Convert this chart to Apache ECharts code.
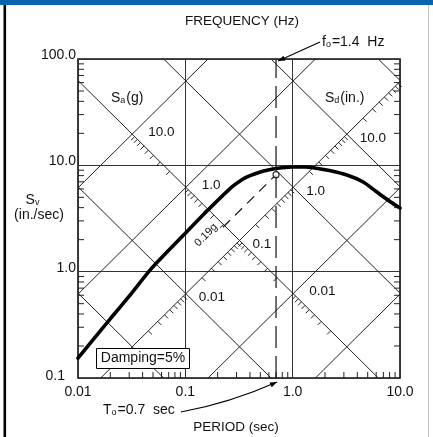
<!DOCTYPE html>
<html>
<head>
<meta charset="utf-8">
<script src="https://cdn.jsdelivr.net/npm/echarts@6/dist/echarts.min.js"></script>
<style>
  html, body { margin: 0; padding: 0; background: #fff; }
  #chart { width: 433px; height: 437px; }
</style>
</head>
<body>
<div id="chart"></div>
<script>
// Pseudo-velocity response spectrum (5% damping) on tripartite log-log paper.
const periodSec = [0.01, 0.0171, 0.0199, 0.03, 0.0469, 0.0675, 0.0953, 0.159, 0.261, 0.345, 0.401, 0.5, 0.577, 0.7, 0.85, 1.0, 1.3, 1.55, 2.2, 3.2, 4.5, 6.0, 8, 10];
const pseudoVel = [0.154, 0.298, 0.358, 0.589, 1.035, 1.53, 2.19, 3.72, 6.05, 7.43, 8.0, 8.65, 9.0, 9.35, 9.55, 9.65, 9.65, 9.5, 8.93, 8.1, 7.0, 5.67, 4.6, 3.96];

// constant-acceleration (g) and constant-displacement (in.) guide lines
const accelLines = [0.001, 0.01, 0.1, 1, 10];
const dispLines = [0.001, 0.01, 0.1, 1, 10, 100];
const tickMultipliers = [2, 3, 4, 5, 6, 7, 8, 9];
const accelTickDecades = [0.001, 0.01, 0.1, 1];   // ticked along Sd = 0.1 in.
const dispTickDecades = [0.001, 0.01, 0.1, 1, 10]; // ticked along Sa = 0.1 g
const accelLabels = [10, 1, 0.01];
const dispLabels = [10, 1, 0.1, 0.01];
const accelScaleAt = 0.1; // Sd line carrying the Sa scale
const dispScaleAt = 0.1;  // Sa line carrying the Sd scale

const xTickLabels = ['0.01', '0.1', '1.0', '10.0'];
const yTickLabels = ['0.1', '1.0', '10.0', '100.0'];

const T0 = 0.7;         // sec
const F0 = 1.4;         // Hz
const saDesign = 0.19;  // g
const saDesignFrom = 0.224; // sec, start of dashed design line
const damping = 5;      // %

const T_MIN = 0.01, T_MAX = 10, SV_MIN = 0.1, SV_MAX = 100;
const G_IN = 386.1;
const TWO_PI = 2 * Math.PI;
const svFromSa = (sa, t) => sa * G_IN * t / TWO_PI;
const svFromSd = (sd, t) => TWO_PI * sd / t;
function crossing(sa, sd) {
  const t = TWO_PI * Math.sqrt(sd / (sa * G_IN));
  return [t, svFromSd(sd, t)];
}
function saSegment(sa) {
  const t1 = Math.max(T_MIN, SV_MIN * TWO_PI / (sa * G_IN));
  const t2 = Math.min(T_MAX, SV_MAX * TWO_PI / (sa * G_IN));
  return [[t1, svFromSa(sa, t1)], [t2, svFromSa(sa, t2)]];
}
function sdSegment(sd) {
  const t1 = Math.max(T_MIN, TWO_PI * sd / SV_MAX);
  const t2 = Math.min(T_MAX, TWO_PI * sd / SV_MIN);
  return [[t1, svFromSd(sd, t1)], [t2, svFromSd(sd, t2)]];
}
const fmtNum = v => (v >= 1 ? v.toFixed(1) : String(v));

const FONT = "'Liberation Sans', Arial, sans-serif";
const INK = '#111';

const chart = echarts.init(document.getElementById('chart'), null, { renderer: 'canvas' });

const series = [];
accelLines.forEach(sa => series.push({
  type: 'line', data: saSegment(sa), symbol: 'none', silent: true, z: 2,
  lineStyle: { color: '#222', width: 1 }
}));
dispLines.forEach(sd => series.push({
  type: 'line', data: sdSegment(sd), symbol: 'none', silent: true, z: 2,
  lineStyle: { color: '#222', width: 1 }
}));

// minor ticks along the diagonal scales
const diagTicks = [];
accelTickDecades.forEach(d => tickMultipliers.forEach(m => {
  const c = crossing(m * d, accelScaleAt); diagTicks.push([c[0], c[1], 0]);
}));
dispTickDecades.forEach(d => tickMultipliers.forEach(m => {
  const c = crossing(dispScaleAt, m * d); diagTicks.push([c[0], c[1], 1]);
}));
series.push({
  type: 'custom', data: diagTicks, silent: true, z: 3,
  encode: { x: 0, y: 1 },
  renderItem: (params, api) => {
    const p = api.coord([api.value(0), api.value(1)]);
    const L = 5 / Math.SQRT2;
    const dx = api.value(2) === 0 ? -L : L;
    return { type: 'line', shape: { x1: p[0], y1: p[1], x2: p[0] + dx, y2: p[1] + L },
             style: { stroke: '#222', lineWidth: 1 } };
  }
});

// minor log ticks on the frame (left/right and bottom)
const axisTicks = [];
[0.1, 1, 10].forEach(d => tickMultipliers.forEach(m => axisTicks.push([T_MIN, m * d, 0])));
[0.01, 0.1, 1].forEach(d => tickMultipliers.forEach(m => axisTicks.push([m * d, SV_MIN, 1])));
series.push({
  type: 'custom', data: axisTicks, silent: true, z: 3,
  encode: { x: 0, y: 1 },
  renderItem: (params, api) => {
    const st = { stroke: '#222', lineWidth: 1 };
    if (api.value(2) === 0) {
      const a = api.coord([T_MIN, api.value(1)]);
      const b = api.coord([T_MAX, api.value(1)]);
      return { type: 'group', children: [
        { type: 'line', shape: { x1: a[0], y1: a[1], x2: a[0] + 6, y2: a[1] }, style: st },
        { type: 'line', shape: { x1: b[0], y1: b[1], x2: b[0] - 6, y2: b[1] }, style: st }
      ] };
    }
    const p = api.coord([api.value(0), SV_MIN]);
    return { type: 'line', shape: { x1: p[0], y1: p[1], x2: p[0], y2: p[1] - 6 }, style: st };
  }
});

// design lines: T0 vertical and Sa = 0.19 g diagonal
series.push({
  type: 'line', data: [[T0, SV_MIN], [T0, SV_MAX]], symbol: 'none', silent: true, z: 4,
  lineStyle: { color: '#111', width: 1.2, type: [22, 8] }
});
series.push({
  type: 'line', data: [[saDesignFrom, svFromSa(saDesign, saDesignFrom)], [T0, svFromSa(saDesign, T0)]],
  symbol: 'none', silent: true, z: 4,
  lineStyle: { color: '#111', width: 1.2, type: [10, 7] }
});

// spectrum curve
series.push({
  type: 'line', data: periodSec.map((t, i) => [t, pseudoVel[i]]),
  symbol: 'none', smooth: 0.25, silent: true, z: 6,
  lineStyle: { color: '#000', width: 3.6, join: 'round', cap: 'round' }
});
series.push({
  type: 'scatter', data: [[T0, svFromSa(saDesign, T0)]], silent: true, z: 7,
  symbol: 'circle', symbolSize: 6,
  itemStyle: { color: '#fff', borderColor: '#000', borderWidth: 1.2 }
});

const option = {
  animation: false,
  backgroundColor: '#fff',
  grid: { left: 78, right: 33, top: 59, bottom: 59, show: true, borderColor: '#111', borderWidth: 1.6, backgroundColor: 'transparent' },
  xAxis: {
    type: 'log', logBase: 10, min: T_MIN, max: T_MAX, splitNumber: 3,
    axisLine: { show: false }, axisTick: { show: false },
    splitLine: { show: true, lineStyle: { color: '#333', width: 1 } },
    axisLabel: {
      margin: 7, fontSize: 14, color: INK, fontFamily: FONT,
      formatter: v => xTickLabels[Math.round(Math.log10(v)) + 2] || ''
    }
  },
  yAxis: {
    type: 'log', logBase: 10, min: SV_MIN, max: SV_MAX, splitNumber: 3,
    axisLine: { show: false }, axisTick: { show: false },
    splitLine: { show: true, lineStyle: { color: '#333', width: 1 } },
    axisLabel: {
      margin: 2, fontSize: 14, color: INK, fontFamily: FONT,
      verticalAlign: 'middle', padding: [0, 0, 8, 0],
      formatter: v => {
        const k = Math.round(Math.log10(v)) + 1;
        return k === 0 ? '{low|' + yTickLabels[k] + '}' : yTickLabels[k];
      },
      rich: { low: { fontSize: 14, color: INK, fontFamily: FONT, padding: [4, 11, 0, 0] } }
    }
  },
  series: series
};
chart.setOption(option);

// annotations placed through the chart's own coordinate conversion
const px = (t, sv) => chart.convertToPixel({ xAxisIndex: 0, yAxisIndex: 0 }, [t, sv]);
const txt = (x, y, text, extra) => ({
  type: 'text', x: x, y: y, z: 100, silent: true,
  style: Object.assign({ text: text, fill: INK, font: '14px ' + FONT, align: 'left', verticalAlign: 'middle' }, extra || {})
});
function arrowHead(from, to, size) {
  const ang = Math.atan2(to[1] - from[1], to[0] - from[0]);
  const w = size * 0.38;
  const bx = to[0] - size * Math.cos(ang), by = to[1] - size * Math.sin(ang);
  return { type: 'polygon', z: 100, silent: true,
    shape: { points: [to, [bx + w * Math.sin(ang), by - w * Math.cos(ang)], [bx - w * Math.sin(ang), by + w * Math.cos(ang)]] },
    style: { fill: '#000' } };
}
const sub = { fontSize: 9, fill: INK, fontFamily: FONT, padding: [6, 1, 0, 0] };
const reg = { fontSize: 14, fill: INK, fontFamily: FONT };

const g = [];
// page frame
g.push({ type: 'rect', z: 100, silent: true, shape: { x: 0, y: 0, width: 433, height: 5 }, style: { fill: '#0a64ad' } });
g.push({ type: 'rect', z: 100, silent: true, shape: { x: 3.5, y: 5, width: 2.6, height: 432 }, style: { fill: '#000' } });
g.push({ type: 'rect', z: 100, silent: true, shape: { x: 428, y: 5, width: 1, height: 432 }, style: { fill: '#c4c4c4' } });

// titles
g.push(txt(242, 21, 'FREQUENCY (Hz)', { align: 'center', font: '13.5px ' + FONT }));
g.push(txt(236, 427, 'PERIOD (sec)', { align: 'center', font: '13.5px ' + FONT }));
g.push({ type: 'text', z: 100, silent: true, x: 33, y: 200,
  style: { text: '{r|S}{s|v}', rich: { r: reg, s: sub }, align: 'center', verticalAlign: 'middle' } });
g.push(txt(39, 215, '(in./sec)', { align: 'center' }));

// scale names
g.push({ type: 'text', z: 100, silent: true, x: 111, y: 98,
  style: { text: '{r|S}{s|a}{r|(g)}', rich: { r: reg, s: sub }, verticalAlign: 'middle' } });
g.push({ type: 'text', z: 100, silent: true, x: 325, y: 98,
  style: { text: '{r|S}{s|d}{r|(in.)}', rich: { r: reg, s: sub }, verticalAlign: 'middle' } });

// diagonal scale values
accelLabels.forEach(a => {
  const p = px(...crossing(a, accelScaleAt));
  g.push(txt(p[0] + 16, p[1] - 2, fmtNum(a), { font: '13.5px ' + FONT }));
});
dispLabels.forEach(d => {
  const p = px(...crossing(dispScaleAt, d));
  g.push(txt(p[0] + 13, p[1] + 4, fmtNum(d), { font: '13.5px ' + FONT }));
});

// design acceleration label along its line
const lp = px(0.17, svFromSa(saDesign, 0.17));
g.push({ type: 'text', z: 100, silent: true, x: lp[0] - 4, y: lp[1] - 5, rotation: Math.PI / 4,
  style: { text: saDesign + 'g', fill: INK, font: '11px ' + FONT, align: 'center', verticalAlign: 'middle' } });

// f0 callout
const topT0 = px(T0, SV_MAX);
const fFrom = [320, 42], fTip = [topT0[0] + 2, topT0[1] + 2];
g.push({ type: 'polyline', z: 100, silent: true, shape: { points: [fFrom, fTip] }, style: { stroke: '#000', lineWidth: 1.1, fill: null } });
g.push(arrowHead(fFrom, fTip, 7));
g.push({ type: 'text', z: 100, silent: true, x: 322, y: 42,
  style: { text: '{r|f}{s|o}{r|=' + F0 + '  Hz}', rich: { r: reg, s: sub }, verticalAlign: 'middle' } });

// T0 callout
const botT0 = px(T0, SV_MIN);
const tFrom = [181, 412], tTip = [botT0[0] + 1, botT0[1] + 4], tCp = [230, 403];
g.push({ type: 'bezierCurve', z: 100, silent: true,
  shape: { x1: tFrom[0], y1: tFrom[1], x2: tTip[0], y2: tTip[1], cpx1: tCp[0], cpy1: tCp[1] },
  style: { stroke: '#000', lineWidth: 1.1, fill: null } });
g.push(arrowHead(tCp, tTip, 7));
g.push({ type: 'text', z: 100, silent: true, x: 103, y: 410,
  style: { text: '{r|T}{s|o}{r|=' + T0 + '  sec}', rich: { r: reg, s: sub }, verticalAlign: 'middle' } });

// damping box
g.push({ type: 'rect', z: 100, silent: true, shape: { x: 96.5, y: 348.5, width: 93, height: 20 },
  style: { fill: '#fff', stroke: '#000', lineWidth: 1 } });
g.push(txt(143, 358.5, 'Damping=' + damping + '%', { align: 'center' }));

chart.setOption({ graphic: g });
</script>
</body>
</html>
